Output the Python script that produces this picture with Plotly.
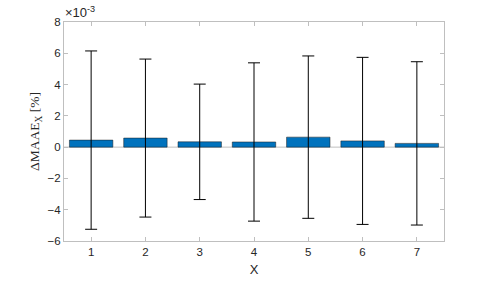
import plotly.graph_objects as go

categories = [1, 2, 3, 4, 5, 6, 7]
values = [0.45, 0.58, 0.34, 0.33, 0.64, 0.40, 0.24]  # x 1e-3
errors = [5.70, 5.05, 3.69, 5.06, 5.19, 5.34, 5.22]  # x 1e-3
yticks = [-6, -4, -2, 0, 2, 4, 6, 8]

fig = go.Figure()
fig.add_trace(go.Bar(
    x=categories, y=values, width=0.8,
    marker=dict(color="#0072BD", line=dict(color="#1a1a1a", width=0.5)),
    error_y=dict(type="data", array=errors, visible=True, color="#000000",
                 thickness=1, width=6),
))

axis_common = dict(
    showline=True, linecolor="#bfbfbf", linewidth=1, mirror="ticks",
    ticks="inside", ticklen=4, tickcolor="#bfbfbf", showgrid=False,
    zeroline=False, automargin=False,
    tickfont=dict(family="Liberation Sans, Arial", size=11.5, color="#262626"),
)

fig.update_layout(
    width=491, height=283, margin=dict(l=64, r=47, t=22, b=42),
    paper_bgcolor="white", plot_bgcolor="white", showlegend=False,
    xaxis=dict(range=[0.5, 7.5], tickvals=categories, **axis_common,
               title=dict(text="X", font=dict(family="Liberation Sans, Arial", size=13, color="#262626"), standoff=8)),
    yaxis=dict(range=[-6, 8], tickvals=yticks, **axis_common,
               title=dict(text="ΔMAAE<sub>X</sub> [%]", font=dict(family="Liberation Serif, Times New Roman", size=13.5, color="#262626"), standoff=4)),
)
fig.add_shape(type="line", xref="paper", yref="y", x0=0, x1=1, y0=0, y1=0,
              line=dict(color="#bfbfbf", width=1), layer="below")
fig.add_annotation(text="×10<sup>-3</sup>", xref="paper", yref="paper", x=0, y=1,
                   xanchor="left", yanchor="bottom", showarrow=False, xshift=-1,
                   font=dict(family="Liberation Sans, Arial", size=13, color="#262626"))

fig.write_html("out.html", config={"displayModeBar": False},
               post_script="document.body.style.margin='0';")
